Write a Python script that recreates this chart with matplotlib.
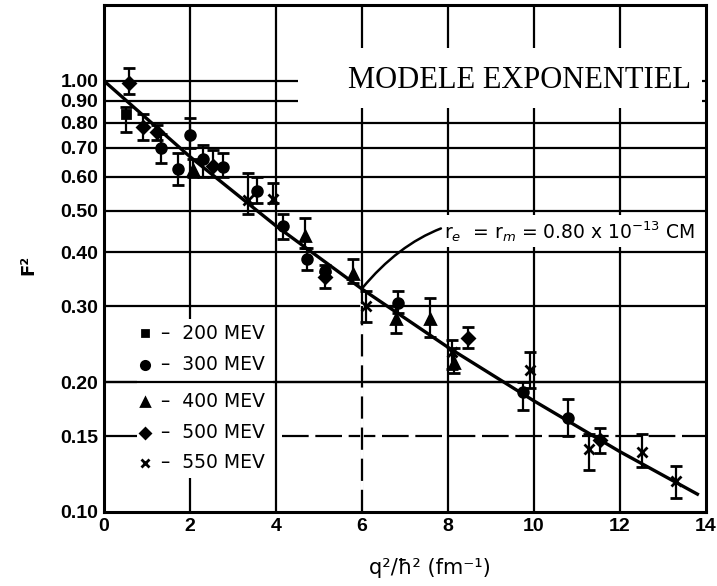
import matplotlib
matplotlib.use("Agg")
import matplotlib.pyplot as plt
from matplotlib.patches import Rectangle
import numpy as np

# points : x = q^2, F^2, borne basse, borne haute
x_200 = [0.51]
f_200 = [0.84]
lo_200 = [0.76]
hi_200 = [0.87]

x_300 = [1.33, 1.72, 2.0, 2.3, 2.76, 3.55, 4.17, 4.72, 5.14, 6.84, 9.74, 10.8]
f_300 = [0.70, 0.625, 0.75, 0.66, 0.63, 0.556, 0.46, 0.387, 0.363, 0.305, 0.19, 0.165]
lo_300 = [0.645, 0.575, 0.70, 0.60, 0.60, 0.52, 0.43, 0.365, 0.35, 0.29, 0.172, 0.15]
hi_300 = [0.755, 0.68, 0.82, 0.71, 0.68, 0.60, 0.49, 0.41, 0.375, 0.325, 0.20, 0.183]

x_400 = [2.07, 4.67, 5.8, 6.8, 7.58, 8.15]
f_400 = [0.62, 0.437, 0.357, 0.281, 0.281, 0.222]
lo_400 = [0.60, 0.41, 0.34, 0.26, 0.254, 0.21]
hi_400 = [0.66, 0.48, 0.387, 0.30, 0.313, 0.24]

x_500 = [0.58, 0.91, 1.23, 2.54, 5.14, 8.47, 11.53]
f_500 = [0.99, 0.78, 0.76, 0.635, 0.35, 0.253, 0.147]
lo_500 = [0.93, 0.73, 0.73, 0.60, 0.33, 0.24, 0.137]
hi_500 = [1.07, 0.84, 0.79, 0.69, 0.36, 0.268, 0.157]

x_550 = [3.35, 3.94, 6.1, 8.1, 9.9, 11.28, 12.5, 13.3]
f_550 = [0.53, 0.533, 0.30, 0.235, 0.213, 0.14, 0.138, 0.118]
lo_550 = [0.49, 0.52, 0.276, 0.215, 0.194, 0.125, 0.127, 0.108]
hi_550 = [0.61, 0.58, 0.326, 0.25, 0.235, 0.152, 0.152, 0.128]

# courbe du modele exponentiel
x_fit = [0, 2, 4, 6, 8, 10, 12, 13.8]
f_fit = [1.00, 0.667, 0.461, 0.329, 0.241, 0.181, 0.138, 0.110]

yticks = [1.0, 0.9, 0.8, 0.7, 0.6, 0.5, 0.4, 0.3, 0.2, 0.15, 0.1]
ylabels = ["1.00", "0.90", "0.80", "0.70", "0.60", "0.50", "0.40", "0.30", "0.20", "0.15", "0.10"]
xticks = [0, 2, 4, 6, 8, 10, 12, 14]

energies = ["200 MEV", "300 MEV", "400 MEV", "500 MEV", "550 MEV"]
markers = ["s", "o", "^", "D", "x"]
sizes = [6, 7, 7, 6, 7]

fig = plt.figure(figsize=(7.17, 5.86), dpi=100)
ax = fig.add_axes([104/717, 1-512/586, 602/717, 507/586])
ax.set_yscale("log")
ax.set_xlim(0, 14)
ax.set_ylim(0.1, 1.5)

ax.set_yticks(yticks)
ax.set_yticklabels(ylabels)
ax.yaxis.set_minor_locator(matplotlib.ticker.NullLocator())
ax.set_xticks(xticks)
ax.set_xticklabels([str(v) for v in xticks])
ax.tick_params(length=0, pad=4)
for lab in ax.get_xticklabels() + ax.get_yticklabels():
    lab.set_fontfamily("Liberation Sans")
    lab.set_fontweight("bold")
    lab.set_fontsize(14)

for s in ax.spines.values():
    s.set_linewidth(2.2)

# grille
glw = 1.6
for yv in yticks[:-1]:
    if yv == 0.15:
        ax.plot([0, 0.77], [yv, yv], color="black", lw=glw, zorder=1)
        ax.plot([4.14, 14], [yv, yv], color="black", lw=glw, ls="--", dashes=(12, 3), zorder=1)
    else:
        ax.axhline(yv, color="black", lw=glw, zorder=1)
for xv in [2, 4, 6, 8, 10, 12]:
    ax.axvline(xv, color="black", lw=glw, zorder=1)

# zones blanches (titre, legende, annotation)
ax.add_patch(Rectangle((4.5, 0.866), 9.4, 1.19-0.866, facecolor="white", edgecolor="none", zorder=2))
ax.add_patch(Rectangle((0.77, 0.12), 3.15, 0.28-0.12, facecolor="white", edgecolor="none", zorder=2))
ax.add_patch(Rectangle((7.8, 0.412), 6.0, 0.488-0.412, facecolor="white", edgecolor="none", zorder=2))
ax.plot([0, 14], [0.2, 0.2], color="black", lw=glw, zorder=3)
ax.plot([6, 6], [0.1, 0.3], color="white", lw=glw + 1, zorder=2.5)
ax.plot([6, 6], [0.1, 0.3], color="black", lw=glw, ls="--", dashes=(10, 4), zorder=3)

ax.text(9.67, 1.0, "MODELE EXPONENTIEL", fontfamily="Liberation Serif", fontsize=22,
        ha="center", va="center", zorder=4)

# donnees
series = [(x_200, f_200, lo_200, hi_200), (x_300, f_300, lo_300, hi_300),
          (x_400, f_400, lo_400, hi_400), (x_500, f_500, lo_500, hi_500),
          (x_550, f_550, lo_550, hi_550)]
for (xs, fs, lo, hi), m, ms in zip(series, markers, sizes):
    fs = np.array(fs)
    err = [fs - np.array(lo), np.array(hi) - fs]
    ax.errorbar(xs, fs, yerr=err, fmt=m, color="black", ms=ms, mew=2,
                elinewidth=1.6, capsize=4, capthick=2, zorder=5)

ax.plot(x_fit, f_fit, color="black", lw=2.4, zorder=4)

ax.annotate(r"r$_e$  = r$_m$ = 0.80 x 10$^{-13}$ CM", xy=(6.0, 0.33), xytext=(7.9, 0.448),
            fontfamily="DejaVu Sans", fontsize=13.5, va="center", ha="left", zorder=4,
            arrowprops=dict(arrowstyle="-", color="black", lw=1.8,
                            connectionstyle="arc3,rad=0.35", shrinkA=0, shrinkB=0))

# legende manuelle
ly = [0.353, 0.290, 0.217, 0.156, 0.097]
for yy, m, ms, lab in zip(ly, markers, sizes, energies):
    ax.plot([0.068], [yy], marker=m, color="black", ms=ms - 1, mew=2,
            transform=ax.transAxes, zorder=5)
    ax.text(0.095, yy, "–  " + lab, transform=ax.transAxes, fontfamily="DejaVu Sans",
            fontsize=13.5, va="center", ha="left", zorder=5)

fig.text(430/717, 1-568/586, "q²/ħ² (fm⁻¹)", fontfamily="DejaVu Sans", fontsize=15,
         ha="center", va="center")
fig.text(28/717, 1-265/586, "F²", fontfamily="DejaVu Sans", fontweight="bold", fontsize=13,
         ha="center", va="center", rotation=90)

fig.savefig("out.png", dpi=100)
